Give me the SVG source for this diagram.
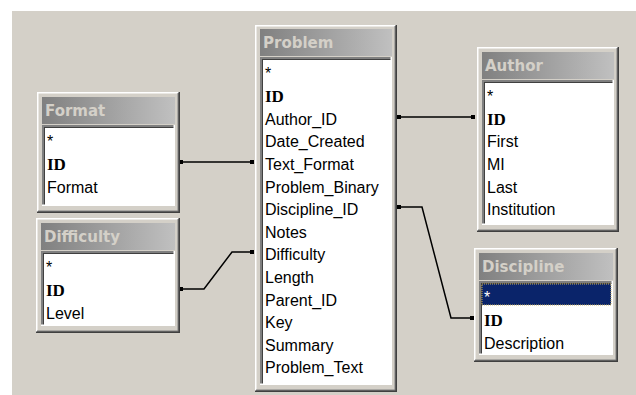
<svg xmlns="http://www.w3.org/2000/svg" width="636" height="395" viewBox="0 0 636 395">
<defs>
<linearGradient id="tg" x1="0" y1="0" x2="1" y2="0">
<stop offset="0" stop-color="#808080"/>
<stop offset="1" stop-color="#C0C0C0"/>
</linearGradient>
<marker id="sq" markerWidth="4" markerHeight="4" refX="2" refY="2" markerUnits="userSpaceOnUse">
<rect x="0" y="0" width="4" height="4" fill="#000"/>
</marker>
</defs>
<style>
.frame{fill:#D4D0C8}
.hl{fill:none;stroke:#FFFFFF;stroke-width:1.5}
.sh{fill:none;stroke:#404040;stroke-width:1.5}
.sh2{fill:none;stroke:#808080;stroke-width:1.5}
.title{fill:url(#tg)}
.list{fill:#FFFFFF}
.ttext{font-family:"DejaVu Sans",Verdana,sans-serif;font-weight:bold;font-size:15px;fill:#D4D0C8}
.f{font-family:"Liberation Sans",Arial,sans-serif;font-size:16px;fill:#000}
.id{font-family:"Liberation Serif","Times New Roman",serif;font-weight:bold;font-size:17px;fill:#000}
.conn{fill:none;stroke:#000;stroke-width:1.5;marker-start:url(#sq);marker-end:url(#sq)}
</style>
<rect x="0" y="0" width="636" height="395" fill="#FFFFFF"/>
<rect x="12" y="11" width="624" height="384" fill="#D4D0C8"/>

<g id="connectors">
<path class="conn" d="M181 162 H252"/>
<path class="conn" d="M181 289 H204 L232 252 H252"/>
<path class="conn" d="M399 117 H473"/>
<path class="conn" d="M399 207 H422 L451 318 H472"/>
</g>

<g id="format">
<rect class="frame" x="37" y="92" width="143" height="121"/>
<path class="hl" d="M37.75 213 V92.75 H180"/>
<path class="sh2" d="M38 211.25 H178.25 V93"/>
<path class="sh" d="M37 212.25 H179.25 V92"/>
<rect class="title" x="42" y="97" width="133" height="27"/>
<text class="ttext" x="45" y="116">Format</text>
<rect class="list" x="42" y="125" width="133" height="81"/>
<path class="sh2" d="M42.75 206 V125.75 H175"/>
<path class="sh" d="M44.25 205 V127.25 H174"/>
<path class="hl" d="M42 205.25 H174.25 V125"/>
<text class="f" x="47" y="147">*</text>
<text class="id" x="47" y="170">ID</text>
<text class="f" x="47" y="193">Format</text>
</g>

<g id="difficulty">
<rect class="frame" x="36" y="218" width="144" height="115"/>
<path class="hl" d="M36.75 333 V218.75 H180"/>
<path class="sh2" d="M37 331.25 H178.25 V219"/>
<path class="sh" d="M36 332.25 H179.25 V218"/>
<rect class="title" x="41" y="223" width="134" height="27"/>
<text class="ttext" x="44" y="242">Difficulty</text>
<rect class="list" x="41" y="251" width="134" height="75"/>
<path class="sh2" d="M41.75 326 V251.75 H175"/>
<path class="sh" d="M43.25 325 V253.25 H174"/>
<path class="hl" d="M41 325.25 H174.25 V251"/>
<text class="f" x="46" y="273">*</text>
<text class="id" x="46" y="296">ID</text>
<text class="f" x="46" y="319">Level</text>
</g>

<g id="problem">
<rect class="frame" x="255" y="25" width="142" height="367"/>
<path class="hl" d="M255.75 392 V25.75 H397"/>
<path class="sh2" d="M256 390.25 H395.25 V26"/>
<path class="sh" d="M255 391.25 H396.25 V25"/>
<rect class="title" x="260" y="29" width="132" height="27"/>
<text class="ttext" x="263" y="48">Problem</text>
<rect class="list" x="260" y="57" width="132" height="328"/>
<path class="sh2" d="M260.75 385 V57.75 H392"/>
<path class="sh" d="M262.25 384 V59.25 H391"/>
<path class="hl" d="M260 384.25 H391.25 V57"/>
<text class="f" x="265" y="79">*</text>
<text class="id" x="265" y="102">ID</text>
<text class="f" x="265" y="125">Author_ID</text>
<text class="f" x="265" y="147">Date_Created</text>
<text class="f" x="265" y="170">Text_Format</text>
<text class="f" x="265" y="193">Problem_Binary</text>
<text class="f" x="265" y="215">Discipline_ID</text>
<text class="f" x="265" y="238">Notes</text>
<text class="f" x="265" y="260">Difficulty</text>
<text class="f" x="265" y="283">Length</text>
<text class="f" x="265" y="306">Parent_ID</text>
<text class="f" x="265" y="328">Key</text>
<text class="f" x="265" y="351">Summary</text>
<text class="f" x="265" y="373">Problem_Text</text>
</g>

<g id="author">
<rect class="frame" x="477" y="47" width="142" height="185"/>
<path class="hl" d="M477.75 232 V47.75 H619"/>
<path class="sh2" d="M478 230.25 H617.25 V48"/>
<path class="sh" d="M477 231.25 H618.25 V47"/>
<rect class="title" x="482" y="52" width="132" height="27"/>
<text class="ttext" x="485" y="71">Author</text>
<rect class="list" x="482" y="80" width="132" height="145"/>
<path class="sh2" d="M482.75 225 V80.75 H614"/>
<path class="sh" d="M484.25 224 V82.25 H613"/>
<path class="hl" d="M482 224.25 H613.25 V80"/>
<text class="f" x="487" y="102">*</text>
<text class="id" x="487" y="125">ID</text>
<text class="f" x="487" y="147">First</text>
<text class="f" x="487" y="170">MI</text>
<text class="f" x="487" y="193">Last</text>
<text class="f" x="487" y="215">Institution</text>
</g>

<g id="discipline">
<rect class="frame" x="474" y="248" width="144" height="114"/>
<path class="hl" d="M474.75 362 V248.75 H618"/>
<path class="sh2" d="M475 360.25 H616.25 V249"/>
<path class="sh" d="M474 361.25 H617.25 V248"/>
<rect class="title" x="479" y="253" width="134" height="27"/>
<text class="ttext" x="482" y="272">Discipline</text>
<rect class="list" x="479" y="281" width="134" height="74"/>
<path class="sh2" d="M479.75 355 V281.75 H613"/>
<path class="sh" d="M481.25 354 V283.25 H612"/>
<path class="hl" d="M479 354.25 H612.25 V281"/>
<rect x="482" y="284" width="129" height="21" fill="#0A246A" stroke="#C8B060" stroke-width="1" stroke-dasharray="1 1"/>
<text class="f" x="484" y="303" style="fill:#FFFFFF">*</text>
<text class="id" x="484" y="326">ID</text>
<text class="f" x="484" y="349">Description</text>
</g>
</svg>
